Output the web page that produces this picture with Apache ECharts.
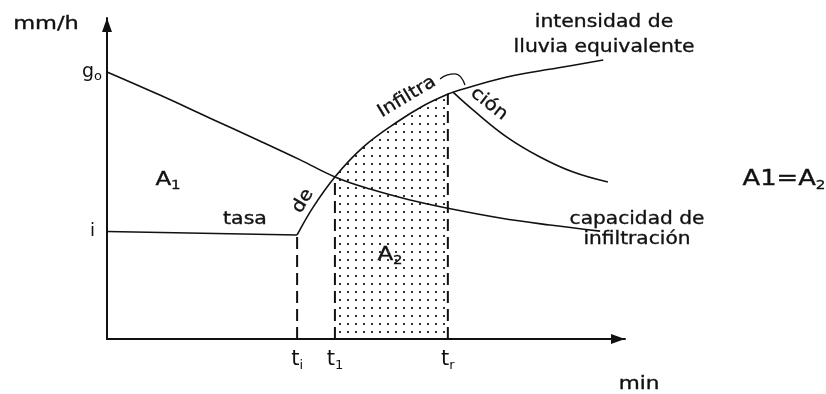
<!DOCTYPE html>
<html>
<head>
<meta charset="utf-8">
<script src="https://cdn.jsdelivr.net/npm/echarts@6/dist/echarts.min.js"></script>
<style>
  html, body { margin: 0; padding: 0; background: #fff; }
  #chart { width: 826px; height: 394px; }
</style>
</head>
<body>
<div id="chart"></div>
<script>
// Infiltration capacity (Horton-type decay), mm/h against time in min
const capacity = [[0, 83.2], [10.2, 76.0], [19.9, 68.8], [29.5, 61.7], [37.3, 55.8], [44.0, 50.5],
                  [50.8, 46.7], [58.5, 43.3], [65.6, 40.8], [75.9, 37.7], [85.5, 35.5], [95.2, 33.6]];
// Constant rain rate before ponding
const initialRate = [[0, 33.5], [36.7, 32.4]];
// Equivalent rainfall intensity after ponding
const equivalentRain = [[36.7, 32.4], [39.8, 41.1], [44.0, 50.5], [49.4, 59.7], [56.0, 67.6], [61.0, 72.6],
                        [65.8, 76.3], [66.8, 76.9], [77.2, 81.6], [86.9, 84.4], [95.8, 86.9]];
// Branch falling away from the peak
const recession = [[66.8, 76.9], [70.7, 71.3], [77.2, 62.9], [83.6, 56.7], [90.0, 52.0], [96.7, 48.9]];
// Small tie joining "Infiltra" and "ción"
const tie = [[64.3, 81.0], [65.6, 82.2], [67.2, 82.6], [68.3, 81.6], [69.1, 79.1]];

// Marked times on the time axis
const timeNames = ['i', '1', 'r'];
const timeValues = [36.7, 44.0, 65.8];
const timeTops = [32.4, 50.5, 76.3];
// Marked rates on the rate axis
const rateNames = ['g', 'i'];
const rateSubs = ['o', ''];
const rateValues = [83.2, 33.5];

const FONT = 'DejaVu Sans';
const INK = '#111';

// dotted fill for the A2 area
function dotPattern() {
  const c = document.createElement('canvas');
  c.width = 8; c.height = 8;
  const g = c.getContext('2d');
  g.fillStyle = '#333';
  g.fillRect(3, 3, 2, 2);
  return c;
}

const areaA2 = equivalentRain.filter(p => p[0] >= timeValues[1] && p[0] <= timeValues[2]);

const chart = echarts.init(document.getElementById('chart'), null, { renderer: 'canvas' });

function curve(name, data, smooth, width) {
  return {
    name, type: 'line', data, smooth, symbol: 'none', silent: true,
    lineStyle: { color: INK, width: width || 1.6 }, z: 3
  };
}

const series = [
  {
    name: 'A2', type: 'line', data: areaA2, smooth: 0.4, symbol: 'none', silent: true,
    lineStyle: { width: 0 },
    areaStyle: { color: { image: dotPattern(), repeat: 'repeat' }, opacity: 1, origin: 'start' },
    z: 1
  },
  curve('capacidad', capacity, 0.4),
  curve('tasa', initialRate, false),
  curve('lluvia', equivalentRain, 0.4),
  curve('recesión', recession, 0.4),
  curve('enlace', tie, 0.5, 1.3)
];

timeValues.forEach((t, k) => {
  series.push({
    name: 't' + timeNames[k], type: 'line', symbol: 'none', silent: true,
    data: [[t, 0], [t, timeTops[k]]],
    lineStyle: { color: INK, width: 2, type: [12, 6] }, z: 2
  });
});

const notes = [
  { text: 'mm/h', x: 46, y: 24, sx: 1.25 },
  { text: 'min', x: 639, y: 384, sx: 1.2 },
  { text: 'intensidad de\nlluvia equivalente', x: 604, y: 35, sx: 1.13, lh: 25 },
  { text: 'capacidad de\ninfiltración', x: 637, y: 229, sx: 1.12, lh: 20 },
  { text: 'tasa', x: 245, y: 219, sx: 1.14 },
  { text: 'de', x: 303, y: 201, rot: 60, sx: 1.1 },
  { text: 'Infiltra', x: 407, y: 97, rot: 31, sx: 1.1 },
  { text: 'ción', x: 489, y: 104, rot: -38, sx: 1.12 },
  { text: '{a|A}{s|1}', x: 168, y: 180, sx: 1.15, big: 20 },
  { text: '{a|A}{s|2}', x: 390, y: 255, sx: 1.15, big: 20 },
  { text: '{a|A1=A}{s|2}', x: 784, y: 179, sx: 1.17, big: 22 }
];

const graphic = notes.map(n => {
  const style = {
    text: n.text, fill: INK, fontFamily: FONT, fontSize: 18,
    align: 'center', verticalAlign: 'middle',
    stroke: INK, lineWidth: 0.35
  };
  if (n.lh) style.lineHeight = n.lh;
  if (n.big) {
    style.rich = {
      a: { fontFamily: FONT, fontSize: n.big, lineHeight: n.big + 4, fill: INK },
      s: { fontFamily: FONT, fontSize: 13, lineHeight: 13, verticalAlign: 'bottom', fill: INK }
    };
  }
  return {
    type: 'text', x: n.x, y: n.y, scaleX: n.sx || 1,
    rotation: (n.rot || 0) * Math.PI / 180, silent: true, style
  };
});

chart.setOption({
  animation: false,
  backgroundColor: '#fff',
  grid: { left: 107, top: 18, right: 201, bottom: 55 },
  xAxis: {
    type: 'value', min: 0, max: 100,
    splitLine: { show: false },
    axisTick: { show: false },
    axisLine: {
      onZero: false,
      symbol: ['none', 'triangle'], symbolSize: [10, 14], symbolOffset: [0, -7],
      lineStyle: { color: INK, width: 2 }
    },
    axisLabel: {
      customValues: timeValues,
      margin: 9,
      formatter: v => '{t|t}{s|' + timeNames[timeValues.indexOf(v)] + '}',
      rich: {
        t: { fontFamily: FONT, fontSize: 21, lineHeight: 24, color: INK },
        s: { fontFamily: FONT, fontSize: 13, lineHeight: 12, verticalAlign: 'bottom', color: INK }
      }
    }
  },
  yAxis: {
    type: 'value', min: 0, max: 100,
    splitLine: { show: false },
    axisTick: { show: false },
    axisLine: {
      onZero: false,
      symbol: ['none', 'triangle'], symbolSize: [10, 14], symbolOffset: [0, -7],
      lineStyle: { color: INK, width: 2 }
    },
    axisLabel: {
      customValues: rateValues,
      margin: 5,
      formatter: v => {
        const k = rateValues.indexOf(v);
        return rateSubs[k] ? '{g|' + rateNames[k] + '}{s|' + rateSubs[k] + '}' : '{r|' + rateNames[k] + '}';
      },
      rich: {
        g: { fontFamily: FONT, fontSize: 19, lineHeight: 22, color: INK },
        s: { fontFamily: FONT, fontSize: 13, lineHeight: 13, verticalAlign: 'bottom', color: INK },
        r: { fontFamily: FONT, fontSize: 18, lineHeight: 22, color: INK, padding: [0, 7, 0, 0] }
      }
    }
  },
  series,
  graphic
});
</script>
</body>
</html>
